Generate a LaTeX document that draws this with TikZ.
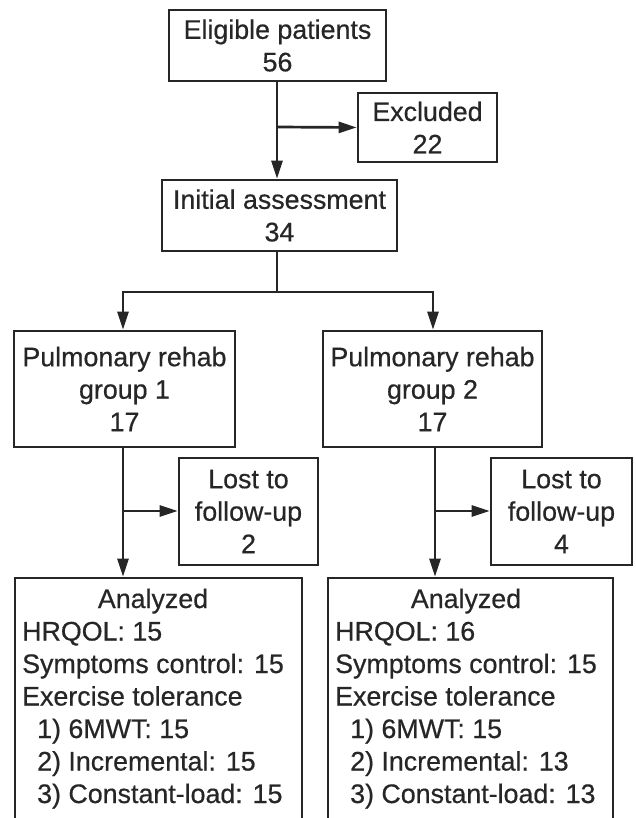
\documentclass[tikz,border=0pt]{standalone}
\usepackage{fontspec}
\setmainfont[FakeBold=0.5]{Liberation Sans}
\usetikzlibrary{arrows.meta}
\definecolor{ink}{HTML}{262626}
\begin{document}
\begin{tikzpicture}[x=1pt,y=-1pt,
  every node/.style={font=\fontsize{26.8}{32.5}\selectfont, text=ink},
  box/.style={draw=ink, line width=2.7pt, align=center, inner sep=0pt, rectangle},
  conn/.style={draw=ink, line width=2.7pt},
  arr/.style={conn, -{Triangle[length=18pt,width=11pt]}},
  txt/.style={inner sep=0pt, anchor=base west}]
\clip (0,0) rectangle (635,818);
\fill[white] (0,0) rectangle (635,818);

\node[box, minimum width=217pt, minimum height=71pt] (elig) at (277.5,45.5) {Eligible patients\\56};
\node[box, minimum width=139pt, minimum height=69pt] (excl) at (427.5,127.5) {Excluded\\22};
\node[box, minimum width=235pt, minimum height=71pt] (init) at (279.5,215.5) {Initial assessment\\34};
\node[box, minimum width=221pt, minimum height=116pt] (g1) at (124.5,389) {Pulmonary rehab\\group 1\\17};
\node[box, minimum width=219pt, minimum height=116pt] (g2) at (432.5,389) {Pulmonary rehab\\group 2\\17};
\node[box, minimum width=139pt, minimum height=107pt] (lost1) at (248.5,511.5) {Lost to\\follow-up\\2};
\node[box, minimum width=141pt, minimum height=107pt] (lost2) at (561.5,511.5) {Lost to\\follow-up\\4};
\node[box, minimum width=287pt, minimum height=262pt] (an1) at (158.5,709) {};
\node[box, minimum width=285pt, minimum height=262pt] (an2) at (470.5,709) {};

\node[txt] (an1t) at (22,608) {\begin{tabular}[t]{@{}l@{}}
\multicolumn{1}{@{}c@{}}{Analyzed}\\
HRQOL: 15\\
Symptoms control: 15\\
Exercise tolerance\\
\hspace*{15pt}1) 6MWT: 15\\
\hspace*{15pt}2) Incremental: 15\\
\hspace*{15pt}3) Constant-load: 15
\end{tabular}};
\node[txt] (an2t) at (335,608) {\begin{tabular}[t]{@{}l@{}}
\multicolumn{1}{@{}c@{}}{Analyzed}\\
HRQOL: 16\\
Symptoms control: 15\\
Exercise tolerance\\
\hspace*{15pt}1) 6MWT: 15\\
\hspace*{15pt}2) Incremental: 13\\
\hspace*{15pt}3) Constant-load: 13
\end{tabular}};

\coordinate (top) at (277,81);
\coordinate (br1) at (277,127);
\coordinate (split) at (277,292);
\coordinate (g1top) at (123,292);
\coordinate (g2top) at (433,292);

\draw[arr] (elig.south -| top) -- (init.north -| top);
\draw[arr] (br1) -- (excl.west);
\draw[conn] (init.south -| split) -- (split);
\draw[arr] (g1top -| g2top) -- (g1top) -- (g1.north -| g1top);
\draw[arr] (g1top) -- (g2top) -- (g2.north -| g2top);

\coordinate (v1) at (123,511);
\coordinate (v2) at (435,511);
\draw[arr] (g1.south -| v1) -- (an1.north -| v1);
\draw[arr] (v1) -- (lost1.west |- v1);
\draw[arr] (g2.south -| v2) -- (an2.north -| v2);
\draw[arr] (v2) -- (lost2.west |- v2);
\end{tikzpicture}
\end{document}
